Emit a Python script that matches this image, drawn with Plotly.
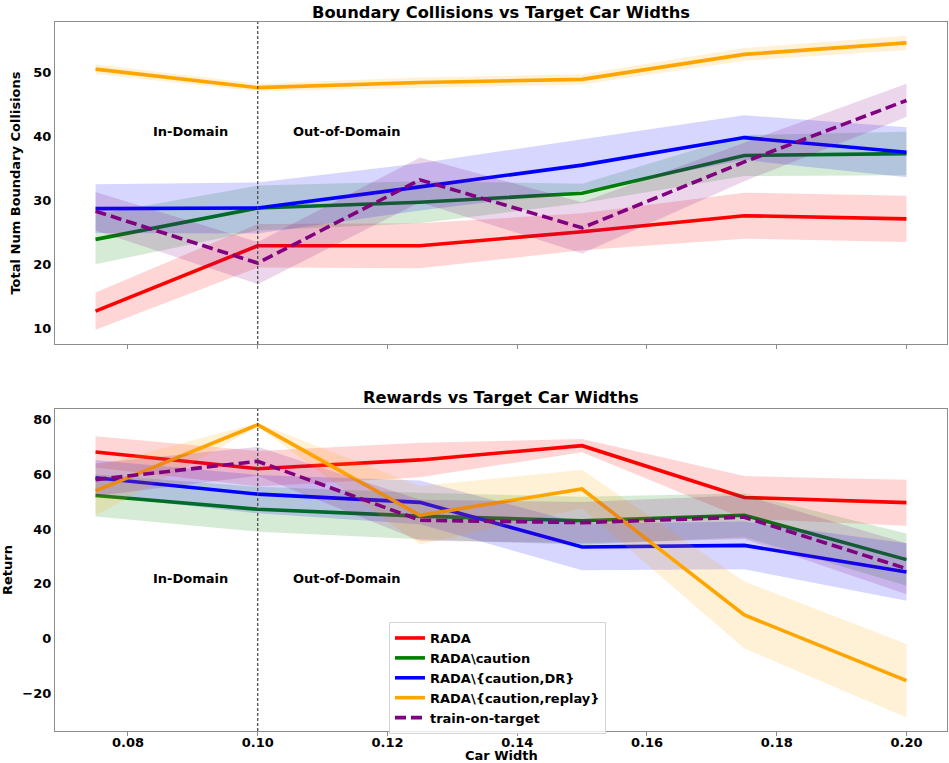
import plotly.graph_objects as go

# Target car widths evaluated
car_widths = [0.075, 0.100, 0.125, 0.150, 0.175, 0.200]

methods = ["RADA", "RADA\\caution", "RADA\\{caution,DR}",
           "RADA\\{caution,replay}", "train-on-target"]
colors = ["#ff0000", "#008000", "#0000ff", "#ffa500", "#800080"]
dashes = ["solid", "solid", "solid", "solid", "11px,5px"]

# Boundary collisions: mean and spread per method
coll_rada = [12.7, 22.9, 22.9, 25.1, 27.6, 27.1]
coll_rada_std = [2.9, 3.4, 3.5, 2.9, 3.6, 3.6]
coll_caution = [23.9, 28.8, 29.7, 31.1, 37.0, 37.3]
coll_caution_std = [3.9, 3.5, 3.3, 1.5, 3.2, 3.4]
coll_dr = [28.7, 28.8, 32.1, 35.5, 39.8, 37.5]
coll_dr_std = [3.8, 4.0, 3.7, 4.0, 3.5, 3.9]
coll_replay = [50.5, 47.6, 48.4, 48.9, 52.8, 54.6]
coll_replay_std = [0.75, 0.6, 0.8, 0.8, 1.0, 1.1]
coll_target = [28.3, 20.2, 33.2, 25.7, 36.0, 45.6]
coll_target_std = [3.0, 3.3, 3.5, 4.0, 3.0, 2.6]

# Returns: mean and spread per method
ret_rada = [68.1, 62.0, 65.2, 70.4, 51.5, 49.6]
ret_rada_std = [5.7, 6.5, 6.3, 2.4, 7.8, 8.4]
ret_caution = [52.2, 47.2, 44.7, 43.0, 45.0, 28.8]
ret_caution_std = [7.7, 8.2, 8.5, 8.8, 8.0, 9.5]
ret_dr = [58.7, 52.7, 49.7, 33.4, 34.0, 24.3]
ret_dr_std = [6.5, 7.0, 8.0, 8.5, 8.7, 10.5]
ret_replay = [53.9, 78.0, 45.0, 54.6, 8.6, -15.4]
ret_replay_std = [9.0, 0.7, 10.7, 7.0, 12.2, 13.4]
ret_target = [58.0, 64.7, 43.2, 42.3, 44.3, 25.5]
ret_target_std = [6.0, 5.3, 7.5, 7.5, 8.0, 9.3]

collisions = [(coll_rada, coll_rada_std), (coll_caution, coll_caution_std),
              (coll_dr, coll_dr_std), (coll_replay, coll_replay_std),
              (coll_target, coll_target_std)]
returns = [(ret_rada, ret_rada_std), (ret_caution, ret_caution_std),
           (ret_dr, ret_dr_std), (ret_replay, ret_replay_std),
           (ret_target, ret_target_std)]

x_ticks = [0.08, 0.10, 0.12, 0.14, 0.16, 0.18, 0.20]
coll_ticks = [10, 20, 30, 40, 50]
ret_ticks = [-20, 0, 20, 40, 60, 80]

FONT = "DejaVu Sans"
BOLD13 = dict(family=FONT, size=13, color="black", weight="bold")
TITLE_FONT = dict(family=FONT, size=16.3, color="black", weight="bold")


def rgba(hex_color, alpha):
    h = hex_color.lstrip("#")
    r, g, b = int(h[0:2], 16), int(h[2:4], 16), int(h[4:6], 16)
    return f"rgba({r},{g},{b},{alpha})"


fig = go.Figure()


def add_panel(series, xaxis, yaxis, show_legend):
    for name, color, dash, (mean, std) in zip(methods, colors, dashes, series):
        upper = [m + s for m, s in zip(mean, std)]
        lower = [m - s for m, s in zip(mean, std)]
        fig.add_trace(go.Scatter(
            x=car_widths + car_widths[::-1], y=upper + lower[::-1],
            fill="toself", fillcolor=rgba(color, 0.16),
            line=dict(width=0), mode="lines", hoverinfo="skip",
            showlegend=False, xaxis=xaxis, yaxis=yaxis))
        fig.add_trace(go.Scatter(
            x=car_widths, y=mean, mode="lines", name=name,
            line=dict(color=color, width=3.6, dash=dash),
            showlegend=show_legend, xaxis=xaxis, yaxis=yaxis))


add_panel(collisions, "x", "y", False)
add_panel(returns, "x2", "y2", True)

x_range = [0.06875, 0.20625]
axis_common = dict(showgrid=False, zeroline=False, showline=True, mirror=True,
                   linecolor="#8c8c8c", linewidth=1.2,
                   tickfont=BOLD13)

fig.update_layout(
    width=949, height=763,
    margin=dict(l=55, r=2, t=22, b=32),
    paper_bgcolor="white", plot_bgcolor="white",
    font=dict(family=FONT, size=13, color="black"),
    xaxis=dict(domain=[0, 1], anchor="y", range=x_range, tickvals=x_ticks,
               showticklabels=False, ticks="outside", ticklen=4,
               tickcolor="#8c8c8c", **axis_common),
    yaxis=dict(domain=[0.5458, 1.0], anchor="x", range=[7.55, 57.86],
               tickvals=coll_ticks, ticks="",
               title=dict(text="Total Num Boundary Collisions",
                          font=BOLD13, standoff=9),
               **axis_common),
    xaxis2=dict(domain=[0, 1], anchor="y2", range=x_range, tickvals=x_ticks,
                tickformat=".2f", ticks="outside", ticklen=4,
                tickcolor="#8c8c8c", ticklabelstandoff=-5,
                **axis_common),
    yaxis2=dict(domain=[0.0, 0.4542], anchor="x2", range=[-33.76, 83.8],
                tickvals=ret_ticks, ticks="",
                title=dict(text="Return", font=BOLD13, standoff=11),
                **axis_common),
    legend=dict(x=0.3744, y=0.1537, xanchor="left", yanchor="top",
                bgcolor="rgba(255,255,255,0.8)", bordercolor="#d5d5d5",
                borderwidth=1, font=BOLD13, tracegroupgap=0,
                itemwidth=30),
    showlegend=True,
)

# Boundary between in-domain and out-of-domain widths
for xr, yr in (("x", "y domain"), ("x2", "y2 domain")):
    fig.add_shape(type="line", xref=xr, yref=yr, x0=0.1, x1=0.1, y0=0, y1=1,
                  line=dict(color="#444444", width=1.2, dash="3px,2px"))

annotations = [
    dict(text="Boundary Collisions vs Target Car Widths", xref="paper",
         yref="paper", x=0.5, y=1.0, yshift=10, yanchor="middle",
         showarrow=False, font=TITLE_FONT),
    dict(text="Rewards vs Target Car Widths", xref="paper", yref="paper",
         x=0.5, y=0.4542, yshift=11, yanchor="middle", showarrow=False,
         font=TITLE_FONT),
    dict(text="Car Width", xref="paper", yref="paper", x=0.5, y=0.0,
         yshift=-24, yanchor="middle", showarrow=False, font=BOLD13),
    dict(text="In-Domain", xref="x", yref="y", x=0.0835, y=40.8,
         xanchor="left", yanchor="middle", showarrow=False, font=BOLD13),
    dict(text="Out-of-Domain", xref="x", yref="y", x=0.1051, y=40.8,
         xanchor="left", yanchor="middle", showarrow=False, font=BOLD13),
    dict(text="In-Domain", xref="x2", yref="y2", x=0.0835, y=21.8,
         xanchor="left", yanchor="middle", showarrow=False, font=BOLD13),
    dict(text="Out-of-Domain", xref="x2", yref="y2", x=0.1051, y=21.8,
         xanchor="left", yanchor="middle", showarrow=False, font=BOLD13),
]
fig.update_layout(annotations=annotations)

fig.write_html("out.html")
